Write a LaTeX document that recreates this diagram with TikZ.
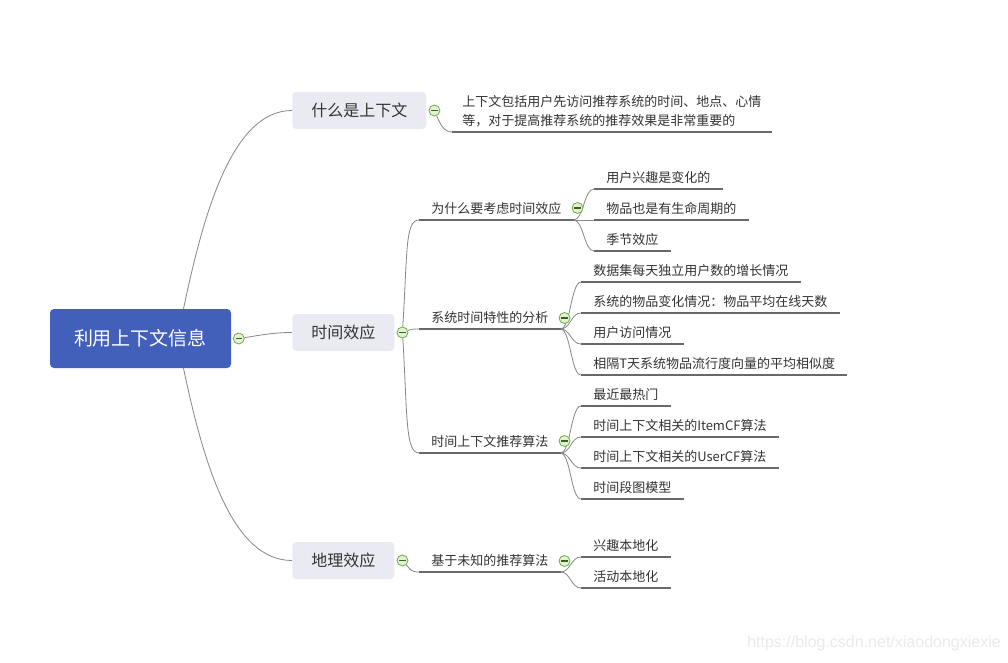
\documentclass[tikz,border=0pt]{standalone}
\usepackage{fontspec}
\newfontfamily\cjk{Noto Sans CJK SC}
\newfontfamily\wmfont{Liberation Sans}
\usepackage{tikz}
\usetikzlibrary{positioning, calc, backgrounds}

\definecolor{rootblue}{RGB}{66,96,186}
\definecolor{topicbg}{RGB}{234,234,243}
\definecolor{inkgray}{RGB}{51,51,51}
\definecolor{wiregray}{RGB}{135,135,135}
\definecolor{linegray}{RGB}{105,105,105}
\definecolor{foldgreen}{RGB}{112,172,72}
\definecolor{foldfill}{RGB}{226,243,212}
\definecolor{marklight}{RGB}{234,234,234}

\begin{document}
\begin{tikzpicture}[x=0.75pt, y=-0.75pt,
    central/.style={rectangle, rounded corners=3pt, fill=rootblue, text=white, font=\cjk\fontsize{14.25}{17}\selectfont, minimum width=135.75pt, minimum height=44.25pt},
    topic/.style={rectangle, rounded corners=3pt, fill=topicbg, text=inkgray, font=\cjk\fontsize{12}{14}\selectfont, inner xsep=14.25pt, minimum height=27.75pt, anchor=west},
    sub/.style={anchor=south west, text=inkgray, font=\cjk\fontsize{9.75}{14.25}\selectfont, inner xsep=9pt, inner ysep=3pt, text height=8pt, text depth=1.5pt},
    fold/.style={circle, draw=foldgreen, fill=foldfill, line width=0.6pt, minimum size=8.25pt, inner sep=0pt, path picture={\draw[foldgreen!55!black, line width=0.8pt] ([xshift=-2.4pt]path picture bounding box.center) -- ([xshift=2.4pt]path picture bounding box.center);}},
    wire/.style={draw=wiregray, line width=0.6pt},
    uline/.style={draw=linegray, line width=0.8pt}
]
\useasboundingbox (0,0) rectangle (1008,662);

% centre and main topics
\node[central] (root) at (140.5,338.5) {利用上下文信息};
\node[fold, right=1.2pt of root] (rootfold) {};

\node[topic] (what) at (292,110.5) {什么是上下文};
\node[fold, right=1.5pt of what] (whatfold) {};
\node[topic] (time) at (292,332.5) {时间效应};
\node[fold, right=1.5pt of time] (timefold) {};
\node[topic] (geo) at (292,560.5) {地理效应};
\node[fold, right=1.5pt of geo] (geofold) {};

% second level
\node[sub, align=left, inner xsep=7.5pt, text height=20pt] (whatdef) at (452,132) {上下文包括用户先访问推荐系统的时间、地点、心情\\等，对于提高推荐系统的推荐效果是非常重要的};

\node[sub] (why) at (419,220) {为什么要考虑时间效应};
\node[fold] (whyfold) at ($(why.south east)+(4,-12)$) {};
\node[sub] (trait) at (419,329) {系统时间特性的分析};
\node[fold] (traitfold) at ($(trait.south east)+(4,-11)$) {};
\node[sub] (algo) at (419,453) {时间上下文推荐算法};
\node[fold] (algofold) at ($(algo.south east)+(4,-12)$) {};
\node[sub] (unknown) at (419,572) {基于未知的推荐算法};
\node[fold] (unknownfold) at ($(unknown.south east)+(4,-11)$) {};

% leaves
\node[sub] (whyA) at (594,189) {用户兴趣是变化的};
\node[sub] (whyB) at (594,220) {物品也是有生命周期的};
\node[sub] (whyC) at (594,251) {季节效应};

\node[sub] (traitA) at (581,282) {数据集每天独立用户数的增长情况};
\node[sub] (traitB) at (581,313) {系统的物品变化情况：物品平均在线天数};
\node[sub] (traitC) at (581,344) {用户访问情况};
\node[sub] (traitD) at (581,375) {相隔T天系统物品流行度向量的平均相似度};

\node[sub] (algoA) at (581,406) {最近最热门};
\node[sub] (algoB) at (581,437) {时间上下文相关的ItemCF算法};
\node[sub] (algoC) at (581,468) {时间上下文相关的UserCF算法};
\node[sub] (algoD) at (581,499) {时间段图模型};

\node[sub] (localA) at (581,557) {兴趣本地化};
\node[sub] (localB) at (581,588) {活动本地化};

\foreach \n in {whatdef,why,trait,algo,unknown,whyA,whyB,whyC,traitA,traitB,traitC,traitD,algoA,algoB,algoC,algoD,localA,localB}
    \draw[uline] (\n.south west) -- (\n.south east);

\node[anchor=west, inner sep=0pt, text=marklight, font=\wmfont\fontsize{12}{14}\selectfont] (wmark) at (747,643) {https://blog.csdn.net/xiaodongxiexie};

\begin{scope}[on background layer]
\fill[white] (0,0) rectangle (1008,662);
\draw[wire] ($(root.north)+(43,0)$) .. controls +(20,-95) and +(-60,0) .. (what.west);
\draw[wire] (rootfold) .. controls +(20,-3) and +(-20,0) .. (time.west);
\draw[wire] ($(root.south)+(43,0)$) .. controls +(20,95) and +(-60,0) .. (geo.west);

\draw[wire] (whatfold) .. controls +(6,14) and +(-8,0) .. (whatdef.south west);
\draw[wire] (timefold) .. controls +(5,-80) and +(-14,0) .. (why.south west);
\draw[wire] (timefold) .. controls +(8,-3) and +(-8,0) .. (trait.south west);
\draw[wire] (timefold) .. controls +(5,80) and +(-14,0) .. (algo.south west);
\draw[wire] (geofold) .. controls +(8,9) and +(-8,0) .. (unknown.south west);

\foreach \n in {whyA,whyB,whyC}
    \draw[wire] (why.south east) .. controls +(10,0) and +(-10,0) .. (\n.south west);
\foreach \n in {traitA,traitB,traitC,traitD}
    \draw[wire] (trait.south east) .. controls +(10,0) and +(-10,0) .. (\n.south west);
\foreach \n in {algoA,algoB,algoC,algoD}
    \draw[wire] (algo.south east) .. controls +(10,0) and +(-10,0) .. (\n.south west);
\foreach \n in {localA,localB}
    \draw[wire] (unknown.south east) .. controls +(10,0) and +(-10,0) .. (\n.south west);
\end{scope}
\end{tikzpicture}
\end{document}
